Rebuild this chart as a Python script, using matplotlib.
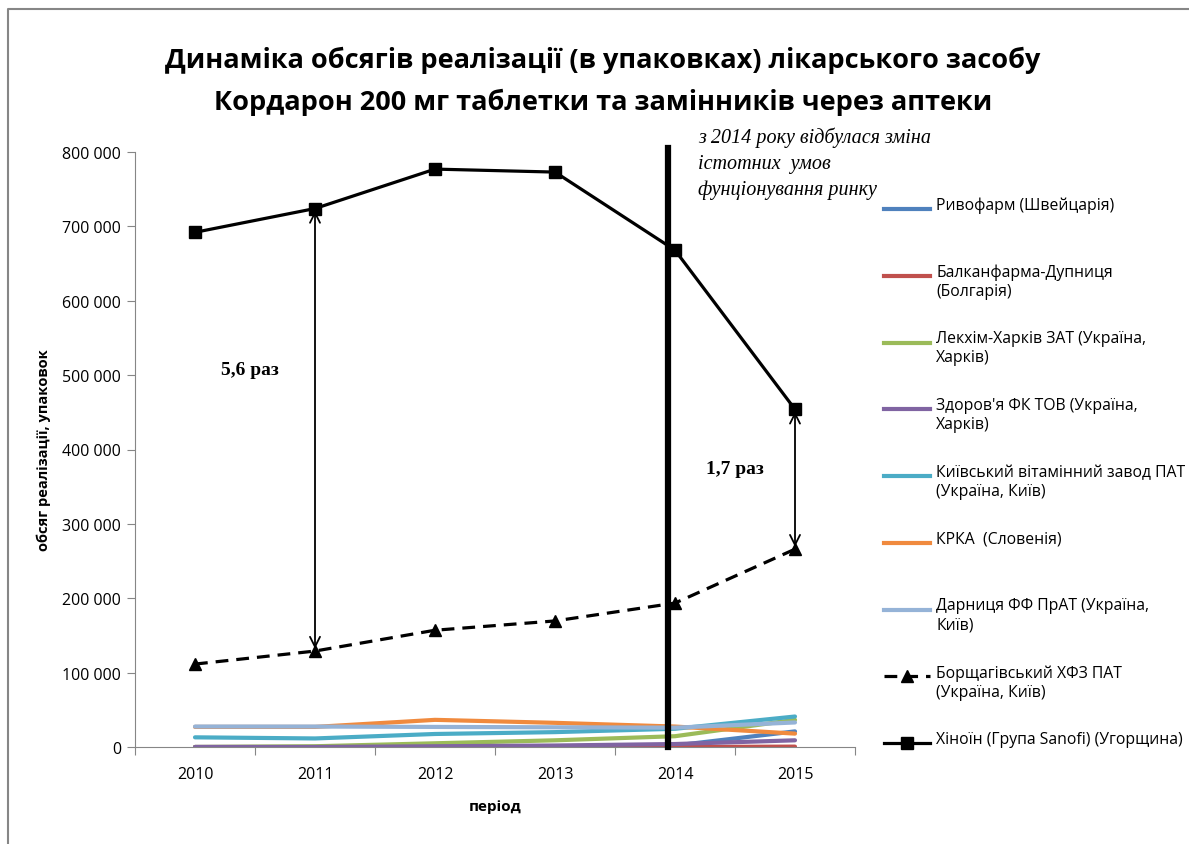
"""
    Dynamics of Cordarone 200 mg sales volumes and substitutes, 2010-2015
"""

import matplotlib.pyplot as plt
from matplotlib.lines import Line2D

years = ['2010', '2011', '2012', '2013', '2014', '2015']

ryvofarm = [0, 0, 0, 500, 2000, 21000]
balkanfarma = [0, 0, 0, 0, 0, 500]
lekhim = [0, 1000, 5000, 9000, 14500, 36500]
zdorovia = [0, 0, 1000, 2000, 4000, 9000]
kyiv_vit = [13000, 11500, 17500, 20000, 24500, 41000]
krka = [27000, 27000, 36500, 32500, 27500, 18000]
darnytsia = [27500, 27500, 27000, 26500, 26000, 33000]
borshch = [111500, 129000, 157000, 169500, 193500, 266000]
hinoin = [692000, 724000, 777000, 773000, 668000, 454000]

labels = [
    "Ривофарм (Швейцарія)",
    "Балканфарма-Дупниця\n(Болгарія)",
    "Лекхім-Харків ЗАТ (Україна,\nХарків)",
    "Здоров'я ФК ТОВ (Україна,\nХарків)",
    "Київський вітамінний завод ПАТ\n(Україна, Київ)",
    "КРКА  (Словенія)",
    "Дарниця ФФ ПрАТ (Україна,\nКиїв)",
    "Борщагівський ХФЗ ПАТ\n(Україна, Київ)",
    "Хіноїн (Група Sanofi) (Угорщина)",
]

ratio_labels = ["5,6 раз", "1,7 раз"]
note = "з 2014 року відбулася зміна\nістотних  умов\nфунціонування ринку"

W, H = 1189, 845
SANS = ['Open Sans', 'DejaVu Sans']
SERIF = ['Liberation Serif', 'DejaVu Serif']

plt.rcParams['font.family'] = SANS

fig = plt.figure(figsize=(W / 100, H / 100), dpi=100)
ax = fig.add_axes([135 / W, 1 - 748 / H, 720 / W, 595 / H])

x = list(range(len(years)))
thin = [
    (ryvofarm, '#4F81BD'),
    (balkanfarma, '#C0504D'),
    (lekhim, '#9BBB59'),
    (zdorovia, '#8064A2'),
    (kyiv_vit, '#4BACC6'),
    (krka, '#F08A3E'),
    (darnytsia, '#95B3D7'),
]
styles = []
for vals, col in thin:
    ax.plot(x, vals, color=col, lw=3, solid_capstyle='round', zorder=2)
    styles.append(dict(color=col, lw=3))

bst = dict(color='black', lw=2.3, ls=(0, (4, 2.5)), marker='^', ms=9)
ax.plot(x, borshch, zorder=4, **bst)
styles.append(bst)

# vertical line marking 2014
ax.plot([3.94, 3.94], [0, 806000], color='black', lw=4.5, clip_on=False, zorder=3)

hst = dict(color='black', lw=2.3, marker='s', ms=9)
ax.plot(x, hinoin, zorder=5, **hst)
styles.append(hst)

# ratio arrows
for i in [1, 5]:
    ax.annotate('', xy=(i, hinoin[i] - 3000), xytext=(i, borshch[i] + 3000),
                arrowprops=dict(arrowstyle='<->', color='black', lw=1.3,
                                mutation_scale=18, shrinkA=0, shrinkB=0))
for txt, (xt, yt) in zip(ratio_labels, [(0.46, 508000), (4.5, 374000)]):
    ax.text(xt, yt, txt, family=SERIF, weight='bold', fontsize=14,
            ha='center', va='center')

ax.set_xlim(-0.5, 5.5)
ax.set_ylim(0, 800000)
ax.set_yticks(range(0, 800001, 100000))
ax.set_yticklabels([f"{v:,}".replace(',', ' ') for v in range(0, 800001, 100000)])
ax.set_xticks([i + 0.5 for i in range(-1, 6)])
ax.set_xticklabels([])
ax.set_xticks(x, minor=True)
ax.set_xticklabels(years, minor=True)
ax.tick_params(axis='x', which='minor', length=0, pad=14, labelsize=11.5)
ax.tick_params(axis='x', which='major', length=6, color='#868686')
ax.tick_params(axis='y', length=6, color='#868686', labelsize=11.5, pad=4)
for s in ['top', 'right']:
    ax.spines[s].set_visible(False)
for s in ['left', 'bottom']:
    ax.spines[s].set_color('#868686')

ax.set_ylabel("обсяг реалізації, упаковок", weight='bold', fontsize=10.5, labelpad=8)
ax.set_xlabel("період", weight='bold', fontsize=11, labelpad=12)

fig.text(603 / W, 1 - 60 / H, "Динаміка обсягів реалізації (в упаковках) лікарського засобу",
         ha='center', va='center', weight='bold', fontsize=19.5)
fig.text(603 / W, 1 - 102 / H, "Кордарон 200 мг таблетки та замінників через аптеки",
         ha='center', va='center', weight='bold', fontsize=19.5)

fig.text(698 / W, 1 - 128 / H, note, family=SERIF, style='italic', fontsize=14.5,
         ha='left', va='top', linespacing=1.45)

# legend, equally spaced slots
for k, (lab, st) in enumerate(zip(labels, styles)):
    yp = 1 - (210 + k * 66.75) / H
    kw = dict(st)
    if 'marker' in kw:
        kw['markevery'] = [1]
    fig.add_artist(Line2D([884 / W, 907 / W, 930 / W], [yp, yp, yp],
                          transform=fig.transFigure, **kw))
    fig.text(936 / W, yp + 12 / H, lab, ha='left', va='top', fontsize=11.3,
             linespacing=1.25)

# outer frame
fig.add_artist(Line2D([8 / W, 8 / W, 1], [0, 1 - 10 / H, 1 - 10 / H],
                      transform=fig.transFigure, color='#868686', lw=1.5))

fig.savefig('out.png', dpi=100)
